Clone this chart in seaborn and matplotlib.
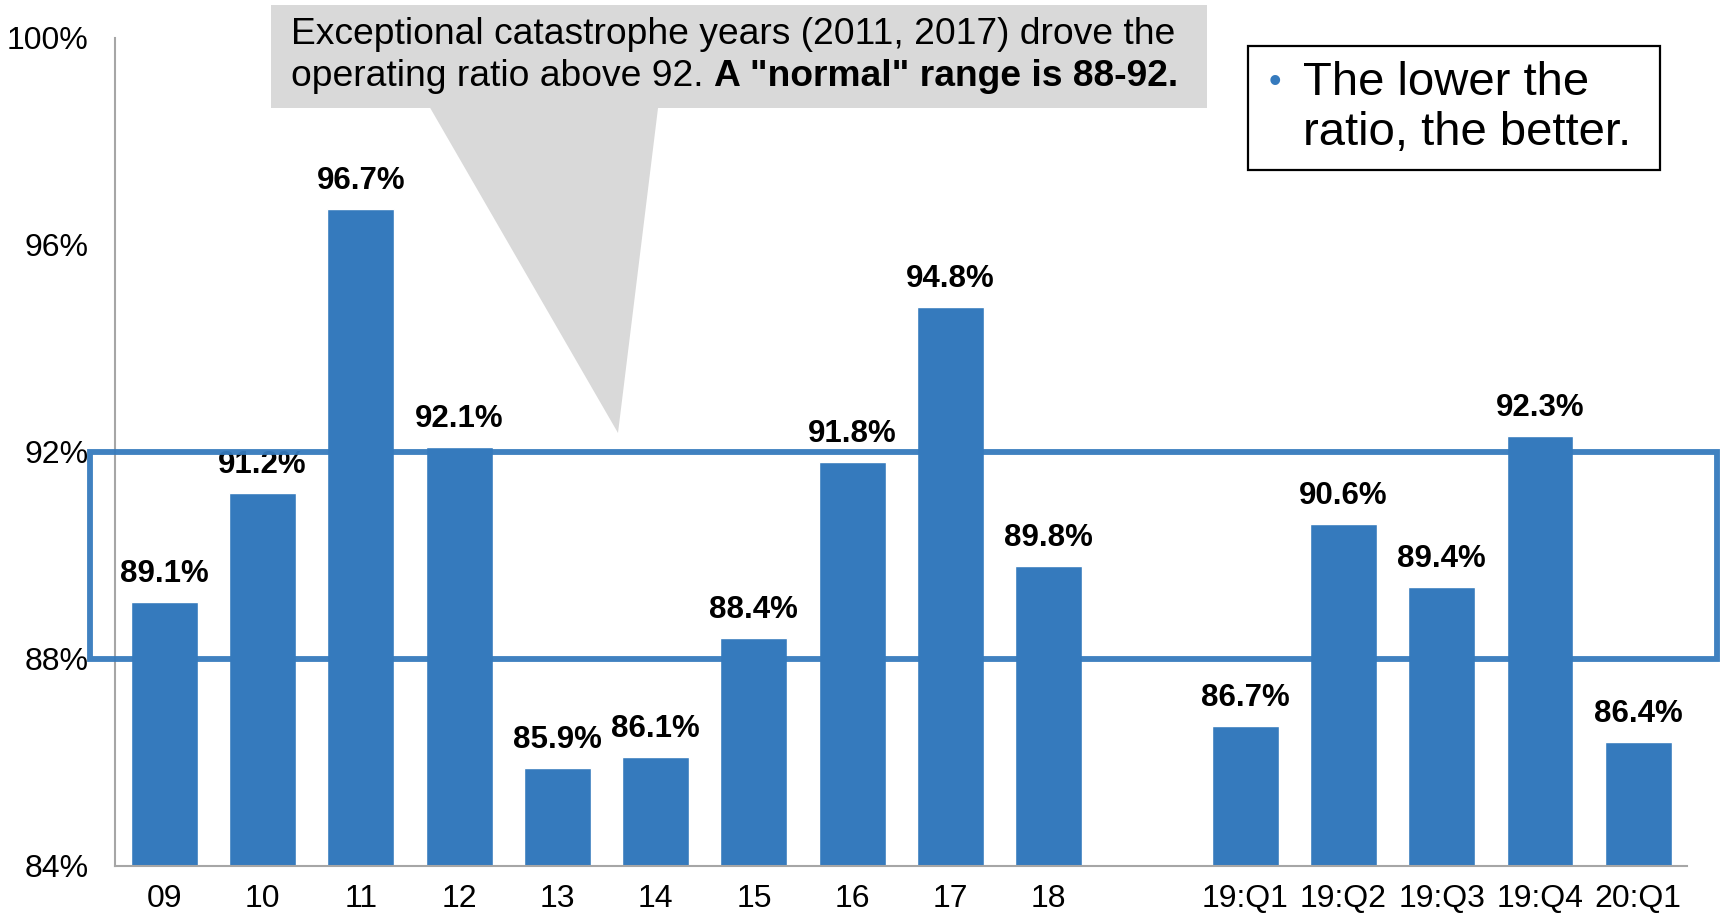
import numpy as np
import pandas as pd
import seaborn as sns
import matplotlib.pyplot as plt
from matplotlib.patches import Rectangle, Polygon
import matplotlib.transforms as mtransforms

periods = ["09", "10", "11", "12", "13", "14", "15", "16", "17", "18", " ",
           "19:Q1", "19:Q2", "19:Q3", "19:Q4", "20:Q1"]
ratios = [89.1, 91.2, 96.7, 92.1, 85.9, 86.1, 88.4, 91.8, 94.8, 89.8, np.nan,
          86.7, 90.6, 89.4, 92.3, 86.4]
y_ticks = [84, 88, 92, 96, 100]
normal_range = (88, 92)

note_line1 = "Exceptional catastrophe years (2011, 2017) drove the"
note_line2a = "operating ratio above 92. "
note_line2b = "A \"normal\" range is 88-92."
side_note = "The lower the\nratio, the better."

blue = "#357ABD"
axis_grey = "#A6A6A6"

sns.set_style("white")
plt.rcParams['font.family'] = ['Liberation Sans', 'DejaVu Sans']
plt.rcParams['text.color'] = 'black'

df = pd.DataFrame({"period": periods, "ratio": ratios})

fig = plt.figure(figsize=(17.2, 9.16), dpi=100)
ax = fig.add_axes([0.067, 0.0546, 0.914, 0.904])

sns.barplot(data=df, x="period", y="ratio", order=periods, color=blue,
            saturation=1, width=0.68, ax=ax)

ax.set_ylim(84, 100)
ax.set_xlim(-0.5, len(periods) - 0.5)
ax.set_yticks(y_ticks)
ax.set_yticklabels([f"{t}%" for t in y_ticks], fontsize=23)
ax.set_xticks(range(len(periods)))
ax.set_xticklabels(periods, fontsize=23)
ax.set_xticks(np.arange(-0.5, len(periods)), minor=True)
ax.tick_params(axis="x", which="major", length=0, pad=13, labelcolor="black")
ax.tick_params(axis="x", which="minor", length=10, width=1.5, color=axis_grey, direction="out")
ax.tick_params(axis="y", length=8, width=1.5, color=axis_grey, direction="out", pad=11,
               labelcolor="black")
ax.set_xlabel("")
ax.set_ylabel("")
for side in ["top", "right"]:
    ax.spines[side].set_visible(False)
for side in ["left", "bottom"]:
    ax.spines[side].set_color(axis_grey)
    ax.spines[side].set_linewidth(1.5)

# value labels
for i, v in enumerate(ratios):
    if np.isnan(v):
        continue
    ax.text(i, v + 0.25, f"{v:.1f}%", ha="center", va="bottom",
            fontsize=22.5, fontweight="bold", color="black")

# "normal" range box
trans = mtransforms.blended_transform_factory(ax.transAxes, ax.transData)
ax.add_patch(Rectangle((-0.016, normal_range[0]), 1.035, normal_range[1] - normal_range[0],
                       transform=trans, fill=False, edgecolor=blue, linewidth=4.2,
                       clip_on=False, zorder=5, alpha=0.95))

# callout
fig.patches.append(Rectangle((0.1576, 0.882), 0.5441, 0.1125, transform=fig.transFigure,
                             facecolor="#D9D9D9", edgecolor="none", zorder=0))
fig.patches.append(Polygon([(0.25, 0.8825), (0.3826, 0.8825), (0.3593, 0.5273)],
                           closed=True, transform=fig.transFigure,
                           facecolor="#D9D9D9", edgecolor="none", zorder=0))
fig.text(0.169, 0.962, note_line1, fontsize=26.8, va="center", ha="left")
t2 = fig.text(0.169, 0.916, note_line2a, fontsize=26.8, va="center", ha="left")
fig.canvas.draw()
bb = t2.get_window_extent().transformed(fig.transFigure.inverted())
fig.text(bb.x1, 0.916, note_line2b, fontsize=26.8, va="center", ha="left",
         fontweight="bold")

# side note box
fig.patches.append(Rectangle((0.7256, 0.8144), 0.2395, 0.1354, transform=fig.transFigure,
                             facecolor="white", edgecolor="black", linewidth=1.6))
fig.text(0.7413, 0.91, "\u2022", color=blue, fontsize=26, va="center", ha="center")
fig.text(0.7576, 0.882, side_note, fontsize=34, va="center", ha="left", linespacing=1.2)

fig.savefig("out.png", dpi=100)
